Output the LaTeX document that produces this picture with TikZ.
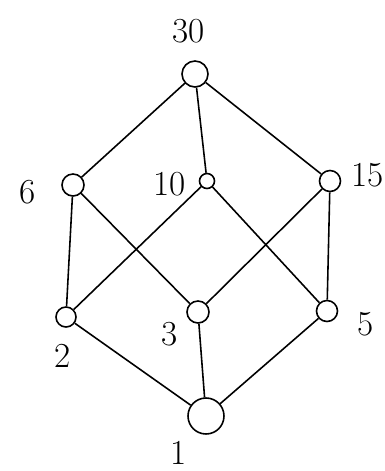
\documentclass[tikz,border=0pt]{standalone}
\begin{document}
\begin{tikzpicture}[x=0.02cm,y=-0.02cm,
  elem/.style={circle,draw,line width=0.9pt,inner sep=0pt},
  lbl/.style={font=\fontsize{20}{20}\selectfont,inner sep=1pt},
  edge/.style={line width=0.9pt}]
\useasboundingbox (0,0) rectangle (385,471);
\node[elem,minimum size=26*0.02cm] (n30) at (195,74) {};
\node[elem,minimum size=22*0.02cm] (n6) at (73,185) {};
\node[elem,minimum size=15*0.02cm] (n10) at (207,181) {};
\node[elem,minimum size=21*0.02cm] (n15) at (330,181) {};
\node[elem,minimum size=20*0.02cm] (n2) at (66,317) {};
\node[elem,minimum size=22*0.02cm] (n3) at (198,312) {};
\node[elem,minimum size=21*0.02cm] (n5) at (327,311) {};
\node[elem,minimum size=36*0.02cm] (n1) at (206,416) {};
\node[lbl] (l30) at (189,31) {30};
\node[lbl] (l6) at (28,192) {6};
\node[lbl] (l10) at (170,184) {10};
\node[lbl] (l15) at (368,175) {15};
\node[lbl] (l2) at (63,356) {2};
\node[lbl] (l3) at (170,334) {3};
\node[lbl] (l5) at (366,324) {5};
\node[lbl] (l1) at (179,453) {1};
\draw[edge] (n30) -- (n6);
\draw[edge] (n30) -- (n10);
\draw[edge] (n30) -- (n15);
\draw[edge] (n6) -- (n2);
\draw[edge] (n6) -- (n3);
\draw[edge] (n10) -- (n2);
\draw[edge] (n10) -- (n5);
\draw[edge] (n15) -- (n3);
\draw[edge] (n15) -- (n5);
\draw[edge] (n2) -- (n1);
\draw[edge] (n3) -- (n1);
\draw[edge] (n5) -- (n1);
\end{tikzpicture}
\end{document}
